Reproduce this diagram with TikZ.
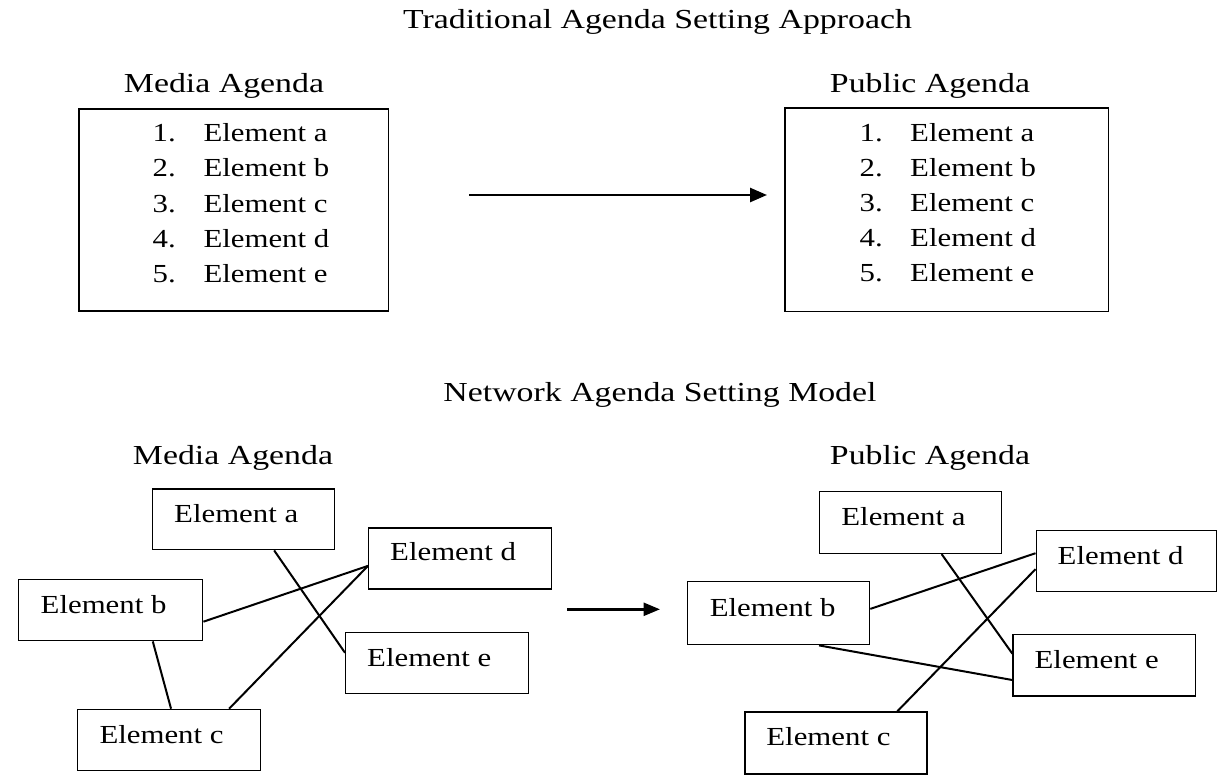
\documentclass[tikz,border=0pt]{standalone}
\usepackage{fontspec}
\usepackage{graphicx}
\setmainfont{Liberation Serif}
\usetikzlibrary{arrows.meta,calc}
\newcommand{\HX}[1]{\scalebox{1.23}[1]{#1}}
\newcommand{\IX}[1]{\scalebox{1.185}[1]{#1}}
\begin{document}
\begin{tikzpicture}[x=1pt,y=-1pt,
  heading/.style={anchor=base, inner sep=0pt, font=\fontsize{27.5}{33}\selectfont},
  item/.style={anchor=base west, inner sep=0pt, font=\fontsize{26}{31}\selectfont},
  listbox/.style={draw, line width=1.5pt, anchor=north west, inner sep=0pt},
  netbox/.style={draw, line width=1.4pt, anchor=north west, inner sep=0pt, minimum width=182pt, minimum height=61pt},
  link/.style={line width=2pt},
  flow/.style={line width=2.6pt, -{Triangle[length=17pt,width=14pt]}},
  flowb/.style={line width=2.6pt, -{Triangle[length=16.5pt,width=13pt]}}]
\useasboundingbox (0,0) rectangle (1217,774);

% ---------- Traditional ----------
\node[heading] (t1) at (657.5,28) {\HX{Traditional Agenda Setting Approach}};
\node[heading] (mh) at (224,92) {\HX{Media Agenda}};
\node[heading] (ph) at (930,92) {\HX{Public Agenda}};

\node[listbox, minimum width=309.4pt, minimum height=201.7pt] (ml) at (78.3,108.3) {};
\node[listbox, minimum width=323.7pt, minimum height=203.4pt] (pl) at (784,107.3) {};

\foreach \n/\l [count=\i from 0] in {1/a,2/b,3/c,4/d,5/e}{
  \node[item] (mn\n) at (152.5,141.7+35.2*\i) {\IX{\n.}};
  \node[item] (me\n) at (203.3,141.7+35.2*\i) {\IX{Element \l}};
  \node[item] (pn\n) at (859.5,141+35.1*\i) {\IX{\n.}};
  \node[item] (pe\n) at (910,141+35.1*\i) {\IX{Element \l}};
}

\coordinate (ta0) at (469.3,195);
\coordinate (ta1) at (767,195);
\draw[flow] (ta0) -- (ta1);

% ---------- Network ----------
\node[heading] (t2) at (660,401.7) {\HX{Network Agenda Setting Model}};
\node[heading] (mh2) at (233,464.5) {\HX{Media Agenda}};
\node[heading] (ph2) at (930,464.5) {\HX{Public Agenda}};

% left network boxes
\node[netbox, minimum width=182pt, minimum height=60.7pt] (la) at (152,488.3) {};
\node[netbox, minimum width=183pt] (ld) at (368,527.3) {};
\node[netbox, minimum width=184pt] (lb) at (18,579) {};
\node[netbox, minimum width=183pt, minimum height=60.7pt] (le) at (345,632) {};
\node[netbox, minimum width=183pt] (lc) at (77,708.7) {};

\node[item] (lat) at ($(la.north west)+(22,34)$) {\IX{Element a}};
\node[item] (ldt) at ($(ld.north west)+(22,33)$) {\IX{Element d}};
\node[item] (lbt) at ($(lb.north west)+(22.5,34.3)$) {\IX{Element b}};
\node[item] (let) at ($(le.north west)+(22,34)$) {\IX{Element e}};
\node[item] (lct) at ($(lc.north west)+(22.3,34.6)$) {\IX{Element c}};

\draw[link] ($(la.south west)!0.666!(la.south east)$) -- ($(le.north west)!0.334!(le.south west)$);
\draw[link] ($(lb.north east)!0.684!(lb.south east)$) -- ($(ld.north west)!0.618!(ld.south west)$);
\draw[link] ($(lc.north west)!0.825!(lc.north east)$) -- ($(ld.north west)!0.618!(ld.south west)$);
\draw[link] ($(lb.south west)!0.727!(lb.south east)$) -- ($(lc.north west)!0.51!(lc.north east)$);

% middle arrow
\coordinate (na0) at (567.3,609.3);
\coordinate (na1) at (660,609.3);
\draw[flowb] (na0) -- (na1);

% right network boxes
\node[netbox, minimum width=182.2pt, minimum height=62pt] (ra) at (818.8,490.7) {};
\node[netbox, minimum width=180.5pt, minimum height=60.7pt] (rd) at (1035.5,530) {};
\node[netbox, minimum width=182.3pt, minimum height=63pt] (rb) at (686.6,581) {};
\node[netbox, minimum width=182.2pt, minimum height=61.3pt] (re) at (1012.4,634) {};
\node[netbox, minimum width=182.2pt, minimum height=62pt] (rc) at (744.2,711.3) {};

\node[item] (rat) at ($(ra.north west)+(22.4,34.3)$) {\IX{Element a}};
\node[item] (rdt) at ($(rd.north west)+(22,34)$) {\IX{Element d}};
\node[item] (rbt) at ($(rb.north west)+(23,35)$) {\IX{Element b}};
\node[item] (ret) at ($(re.north west)+(22,34)$) {\IX{Element e}};
\node[item] (rct) at ($(rc.north west)+(22,34.5)$) {\IX{Element c}};

\draw[link] ($(ra.south west)!0.669!(ra.south east)$) -- ($(re.north west)!0.315!(re.south west)$);
\draw[link] ($(rb.north east)!0.433!(rb.south east)$) -- ($(rd.north west)!0.374!(rd.south west)$);
\draw[link] ($(rc.north west)!0.834!(rc.north east)$) -- ($(rd.north west)!0.631!(rd.south west)$);
\draw[link] ($(rb.south west)!0.721!(rb.south east)$) -- ($(re.north west)!0.734!(re.south west)$);
\end{tikzpicture}
\end{document}
